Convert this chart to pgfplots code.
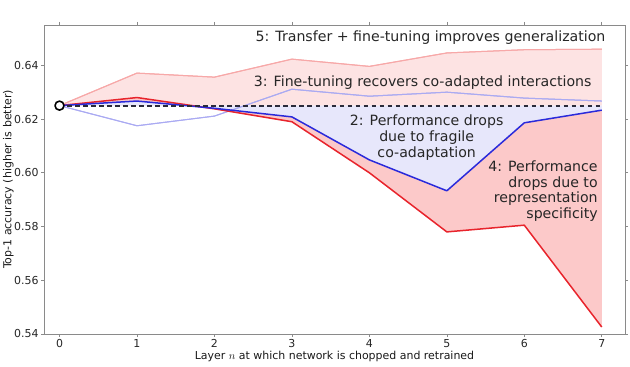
\documentclass[border=0pt]{standalone}
\usepackage{pgfplots}
\pgfplotsset{compat=1.18}
\usepgfplotslibrary{fillbetween}
\usepackage{fontspec}
\setmainfont{DejaVu Sans}
\definecolor{darkred}{HTML}{E8242C}
\definecolor{darkblue}{HTML}{2A2ADB}
\definecolor{lightred}{HTML}{F7A8A8}
\definecolor{lightblue}{HTML}{AAAAF2}
\definecolor{fillpink}{HTML}{FDE3E3}
\definecolor{fillred}{HTML}{FCC9C9}
\definecolor{filllav}{HTML}{E7E7FB}
\definecolor{framegray}{HTML}{8A8A8A}
\definecolor{basecol}{HTML}{2A2A3A}
\begin{document}
\begin{tikzpicture}
\begin{axis}[
  scale only axis, width=581bp, height=309bp,
  xmin=-0.2, xmax=7.3, ymin=0.54, ymax=0.655,
  xtick={0,1,2,3,4,5,6,7},
  ytick={0.54,0.56,0.58,0.60,0.62,0.64},
  tick align=outside, tick pos=both,
  major tick length=3bp,
  axis line style={framegray, line width=0.8bp},
  tick style={framegray, line width=0.6bp},
  ticklabel style={font=\fontsize{11}{13}\selectfont, text=black!85},
  xticklabel style={yshift=1bp},
  yticklabel style={xshift=1bp, /pgf/number format/.cd, fixed, fixed zerofill, precision=2},
  /pgf/number format/assume math mode=true,
  xlabel={Layer $n$ at which network is chopped and retrained},
  ylabel={Top-1 accuracy (higher is better)},
  label style={font=\fontsize{11}{13}\selectfont, text=black!90},
  xlabel shift=-3bp,
  ylabel shift=-6.5bp,
  every axis plot/.append style={line join=round},
]
% AnB+ (transfer + fine-tuning)
\addplot[name path=anbp, lightred, line width=1bp] coordinates {
 (0,0.625)(1,0.6371)(2,0.6356)(3,0.6423)(4,0.6396)(5,0.6446)(6,0.6458)(7,0.6460)};
% BnB+ (selffer + fine-tuning)
\addplot[name path=bnbp, lightblue, line width=1bp] coordinates {
 (0,0.625)(1,0.6175)(2,0.6211)(3,0.6311)(4,0.6285)(5,0.6300)(6,0.6278)(7,0.6267)};
% baseline
\addplot[name path=base, draw=none] coordinates {(0,0.625)(7,0.625)};
% BnB
\addplot[name path=bnb, draw=none] coordinates {
 (0,0.625)(1,0.6267)(2,0.6240)(3,0.6208)(4,0.6048)(5,0.5933)(6,0.6186)(7,0.6233)};
% AnB
\addplot[name path=anb, draw=none] coordinates {
 (0,0.625)(1,0.6280)(2,0.6238)(3,0.6190)(4,0.6000)(5,0.5780)(6,0.5805)(7,0.5426)};

\addplot[fillpink] fill between[of=anbp and base];
\addplot[filllav] fill between[of=base and bnb];
\addplot[fillred] fill between[of=bnb and anb];

% redraw light lines over fills
\addplot[lightred, line width=1bp] coordinates {
 (0,0.625)(1,0.6371)(2,0.6356)(3,0.6423)(4,0.6396)(5,0.6446)(6,0.6458)(7,0.6460)};
\addplot[lightblue, line width=1bp] coordinates {
 (0,0.625)(1,0.6175)(2,0.6211)(3,0.6311)(4,0.6285)(5,0.6300)(6,0.6278)(7,0.6267)};
% dark lines
\addplot[darkred, line width=1.5bp] coordinates {
 (0,0.625)(1,0.6280)(2,0.6238)(3,0.6190)(4,0.6000)(5,0.5780)(6,0.5805)(7,0.5426)};
\addplot[darkblue, line width=1.5bp] coordinates {
 (0,0.625)(1,0.6267)(2,0.6240)(3,0.6208)(4,0.6048)(5,0.5933)(6,0.6186)(7,0.6233)};
% baseline dashed
\addplot[basecol, line width=1.8bp, dash pattern=on 4.5bp off 3.5bp] coordinates {(0,0.625)(7,0.625)};
% base marker
\addplot[only marks, mark=*, mark size=4.5bp, mark options={fill=white, draw=black, line width=1.6bp}] coordinates {(0,0.625)};

\node[anchor=east, font=\fontsize{14.2}{16}\selectfont, text=black!85, inner sep=0pt]
  at (axis cs:7.05,0.6504) {5: Transfer + fine-tuning improves generalization};
\node[anchor=east, font=\fontsize{14.2}{16}\selectfont, text=black!85, inner sep=0pt]
  at (axis cs:6.87,0.6337) {3: Fine-tuning recovers co-adapted interactions};
\node[anchor=center, align=center, font=\fontsize{14.2}{15.6}\selectfont, text=black!85, inner sep=0pt]
  at (axis cs:4.74,0.6131) {2: Performance drops\\due to fragile\\co-adaptation};
\node[anchor=east, align=right, font=\fontsize{14.2}{15.6}\selectfont, text=black!85, inner sep=0pt]
  at (axis cs:6.95,0.5931) {4: Performance\\drops due to\\representation\\specificity};
\end{axis}
\pgfresetboundingbox
\path ([xshift=-44bp,yshift=-32bp]current axis.south west) rectangle ([xshift=5bp,yshift=25bp]current axis.north east);
\end{tikzpicture}
\end{document}
